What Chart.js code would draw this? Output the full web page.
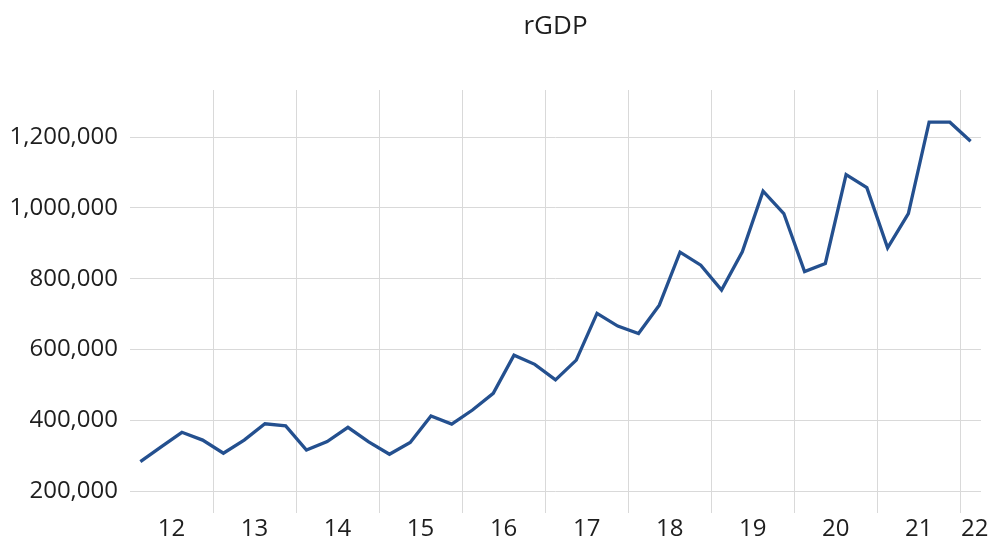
<!DOCTYPE html>
<html>
<head>
<meta charset="utf-8">
<script src="https://cdn.jsdelivr.net/npm/chart.js@4/dist/chart.umd.min.js"></script>
<style>
  html, body { margin: 0; padding: 0; background: #fff; }
  #wrap { width: 993px; height: 547px; }
</style>
</head>
<body>
<div id="wrap"><canvas id="grafico"></canvas></div>
<script>
// quarterly real GDP, 2012 Q1 .. 2022 Q1
var quarters = ['12Q1','12Q2','12Q3','12Q4','13Q1','13Q2','13Q3','13Q4','14Q1','14Q2','14Q3','14Q4',
                '15Q1','15Q2','15Q3','15Q4','16Q1','16Q2','16Q3','16Q4','17Q1','17Q2','17Q3','17Q4',
                '18Q1','18Q2','18Q3','18Q4','19Q1','19Q2','19Q3','19Q4','20Q1','20Q2','20Q3','20Q4',
                '21Q1','21Q2','21Q3','21Q4','22Q1'];
var rgdp = [283000, 325000, 366000, 344000, 307000, 344000, 390000, 384000, 316000, 340000, 380000, 339000,
            304000, 337000, 412000, 389000, 429000, 476000, 584000, 558000, 514000, 570000, 702000, 666000,
            645000, 725000, 875000, 838000, 768000, 876000, 1047000, 984000, 820000, 843000, 1094000, 1057000,
            887000, 984000, 1242000, 1242000, 1188000];
var yearLabels = ['12','13','14','15','16','17','18','19','20','21','22'];
var yTicks = [200000, 400000, 600000, 800000, 1000000, 1200000];
var titulo = 'rGDP';

var fonte = 'Open Sans';
var gridCor = '#d9d9d9';
var textoCor = '#1e1e1e';

// year labels sit at the middle of their four quarters, grid lines between years
var xTicks = [];
for (var i = 0; i < yearLabels.length; i++) {
    var centro = i * 4 + 1.5;
    if (i === yearLabels.length - 1) centro = i * 4 + 0.2;
    xTicks.push({ value: centro, label: yearLabels[i], grid: false });
    if (i > 0) xTicks.push({ value: i * 4 - 0.5, label: '', grid: true });
}
xTicks.sort(function (a, b) { return a.value - b.value; });

var pontos = rgdp.map(function (v, i) { return { x: i, y: v }; });

// title centred over the plot area, not the whole canvas
var tituloPlugin = {
    id: 'tituloArea',
    afterDraw: function (chart) {
        var c = chart.ctx;
        var area = chart.chartArea;
        c.save();
        c.font = '26px "' + fonte + '"';
        c.fillStyle = textoCor;
        c.textAlign = 'center';
        c.textBaseline = 'middle';
        c.fillText(titulo, (area.left + area.right) / 2, 27);
        c.restore();
    }
};

var ctx = document.getElementById('grafico').getContext('2d');
new Chart(ctx, {
    type: 'line',
    data: {
        datasets: [{
            label: titulo,
            data: pontos,
            borderColor: '#24508f',
            borderWidth: 3.3,
            pointRadius: 0,
            tension: 0,
            fill: false
        }]
    },
    options: {
        responsive: true,
        maintainAspectRatio: false,
        animation: false,
        layout: { padding: { top: 90, right: 12 } },
        scales: {
            x: {
                type: 'linear',
                min: -0.5,
                max: 40.5,
                afterBuildTicks: function (axis) {
                    axis.ticks = xTicks.map(function (t) { return { value: t.value }; });
                },
                afterFit: function (axis) { axis.height = 34; },
                border: { display: false },
                grid: {
                    drawTicks: false,
                    lineWidth: 1,
                    color: function (c) {
                        var t = xTicks[c.index];
                        return t && t.grid ? gridCor : 'rgba(0,0,0,0)';
                    }
                },
                ticks: {
                    autoSkip: false,
                    maxRotation: 0,
                    padding: 2,
                    color: textoCor,
                    font: { family: fonte, size: 24 },
                    callback: function (value, index) {
                        return xTicks[index] ? xTicks[index].label : '';
                    }
                }
            },
            y: {
                min: 138000,
                max: 1333000,
                afterBuildTicks: function (axis) {
                    axis.ticks = yTicks.map(function (v) { return { value: v }; });
                },
                afterFit: function (axis) { axis.width = 130; },
                border: { display: false },
                grid: { color: gridCor, drawTicks: false },
                ticks: {
                    padding: 12,
                    color: textoCor,
                    font: { family: fonte, size: 24 },
                    callback: function (value) {
                        return value.toLocaleString('en-US');
                    }
                }
            }
        },
        plugins: {
            legend: { display: false },
            tooltip: { enabled: false },
            title: { display: false }
        }
    },
    plugins: [tituloPlugin]
});
</script>
</body>
</html>
